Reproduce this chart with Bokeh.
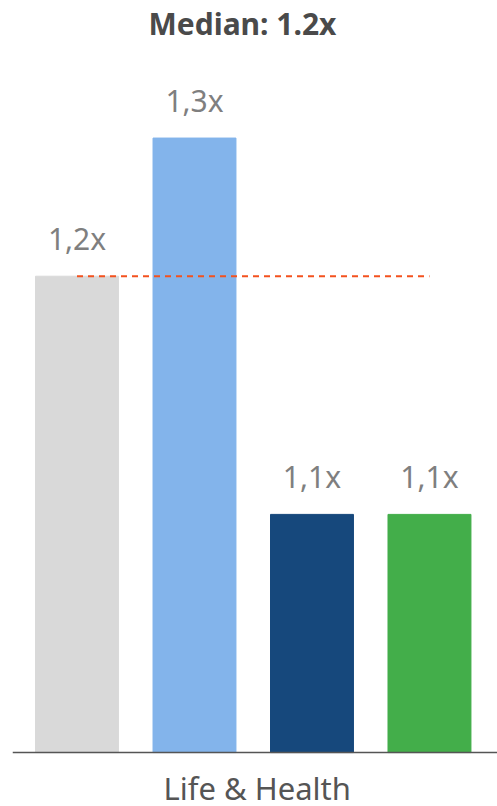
from bokeh.plotting import figure
from bokeh.models import Range1d, ColumnDataSource, LabelSet, Label, Span
from bokeh.core.properties import value
from bokeh.embed import file_html
from bokeh.resources import INLINE

categories = ["Peer A", "Peer B", "Peer C", "Peer D"]
values = [1.2, 1.258, 1.1, 1.1]
labels = ["1,2x", "1,3x", "1,1x", "1,1x"]
colors = ["#d9d9d9", "#83b4eb", "#16487c", "#43ae4a"]
baseline = 1.0
median = 1.2
title_text = "Median: 1.2x"
group_label = "Life & Health"

FONT = "Noto Sans"
xs = list(range(len(categories)))

src = ColumnDataSource(dict(x=xs, top=values, label=labels, color=colors, cat=categories))

p = figure(width=497, height=806, output_backend="svg", toolbar_location=None,
           x_range=Range1d(-0.549, 3.579), y_range=Range1d(0.97736, 1.2977),
           min_border_left=12, min_border_right=0, min_border_top=0,
           min_border_bottom=0,
           outline_line_color=None, background_fill_color="white",
           border_fill_color="white")

p.title.text = title_text
p.title.align = "left"
p.title.text_font = FONT
p.title.text_font_size = "30px"
p.title.text_font_style = "bold"
p.title.text_color = "#4a4a4a"
p.title.offset = 136
p.title.standoff = 0

p.vbar(x="x", top="top", bottom=baseline, width=0.706, color="color", source=src)

p.line(x=[xs[0], xs[-1]], y=[median, median], line_color="#f4511e",
       line_width=2, line_dash="6 5")

# axis line
p.add_layout(Span(location=baseline, dimension="width", line_color="#555555",
                  line_width=1.5))

lbl = LabelSet(x="x", y="top", text="label", source=src, text_align="center",
               text_baseline="bottom", y_offset=17, text_font=value(FONT),
               text_font_size=value("30px"), text_color="#7f7f7f")
p.add_layout(lbl)

# group label under the axis line
glabel = Label(x=(xs[0] + xs[-1]) / 2, y=baseline, x_offset=4, y_offset=-35,
               text=group_label, text_align="center", text_baseline="alphabetic",
               text_font=FONT, text_font_size="31px", text_color="#555555")
p.add_layout(glabel)

p.xgrid.visible = False
p.ygrid.visible = False
p.xaxis.visible = False
p.yaxis.visible = False

open("out.html", "w").write(file_html(p, INLINE))
